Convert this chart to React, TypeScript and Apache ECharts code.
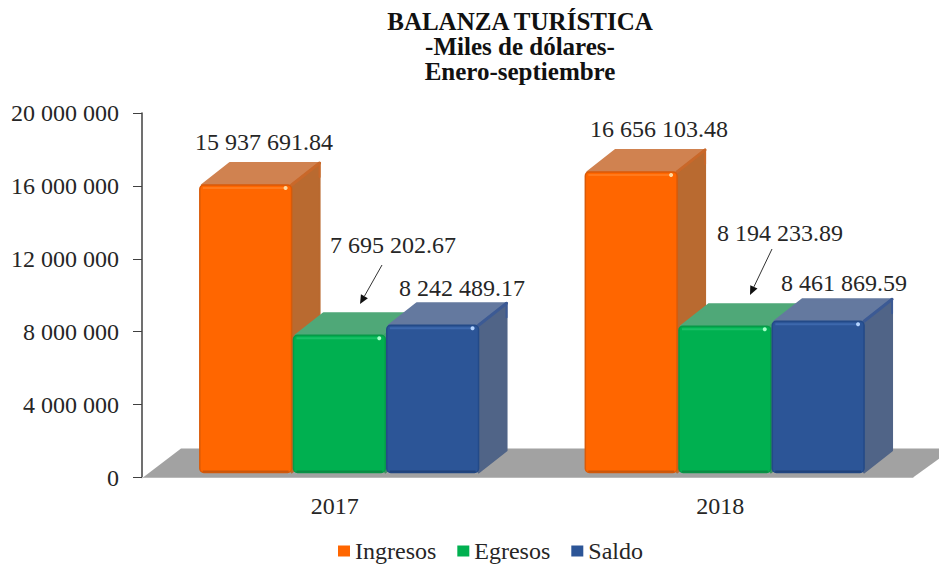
import React, { useEffect, useRef } from "react";
import * as echarts from "echarts";

const categories = ["2017", "2018"];
const ingresos = [15937691.84, 16656103.48];
const egresos = [7695202.67, 8194233.89];
const saldo = [8242489.17, 8461869.59];
const legendNames = ["Ingresos", "Egresos", "Saldo"];
const titleText = "BALANZA TURÍSTICA\n-Miles de dólares-\nEnero-septiembre";
const FONT = '"Liberation Serif", "Times New Roman", serif';

const palette = [
  { front: "#ff6600", edge: "#d95a08", top: "#d08250", side: "#b96a30", rim: "#c9682a", glint: "#ffd9a0", lip: "#ff7a1c", foot: "#c9560c" },
  { front: "#00b050", edge: "#069a48", top: "#4fa878", side: "#3f8f62", rim: "#3fa56c", glint: "#a5ffc8", lip: "#18c066", foot: "#0a8a44" },
  { front: "#2c5597", edge: "#234a88", top: "#64799f", side: "#506487", rim: "#3c5a94", glint: "#b5d4ff", lip: "#3d68ad", foot: "#20427a" },
];
// per-series placement of the bars inside a category band (share of band width)
const barOffset = [-0.35, -0.107, 0.135];
const labelPos = [
  [[264, 142], [659, 129]],
  [[393, 245], [780, 233]],
  [[462, 288], [844, 283]],
];

const fmtSpace = (v: number) => String(v).replace(/\B(?=(\d{3})+(?!\d))/g, " ");
const fmtValue = (v: number) => {
  const [a, b] = v.toFixed(2).split(".");
  return `${fmtSpace(Number(a))}.${b}`;
};

const DX = 28;
const DY = -22;

function barSeries(s: number, values: number[]) {
  const c = palette[s];
  return {
    type: "custom",
    name: legendNames[s],
    itemStyle: { color: c.front },
    data: values.map((v, i) => [i, v]),
    encode: { x: 0, y: 1 },
    z: 3 + s,
    renderItem: (_p: any, api: any) => {
      const cat = api.value(0);
      const val = api.value(1);
      const [cx, yTopRaw] = api.coord([cat, val]);
      const [, y0] = api.coord([cat, 0]);
      const band = api.size([1, 0])[0];
      const w = band * 0.238;
      const x = cx + band * barOffset[s];
      const base = y0 - 5;
      const yTop = yTopRaw - 2;
      const [lx, ly] = labelPos[s][cat];
      return {
        type: "group",
        children: [
          {
            type: "polygon",
            shape: { points: [[x + 2, yTop], [x + DX + 2, yTop + DY], [x + w + DX, yTop + DY], [x + w, yTop]] },
            style: { fill: c.top, stroke: c.top, lineWidth: 2, lineJoin: "round" },
          },
          {
            type: "polygon",
            shape: { points: [[x + w, yTop], [x + w + DX, yTop + DY], [x + w + DX, base + DY], [x + w, base]] },
            style: { fill: c.side, stroke: c.side, lineWidth: 2, lineJoin: "round" },
          },
          {
            type: "line",
            shape: { x1: x + w, y1: yTop, x2: x + w + DX, y2: yTop + DY },
            style: { stroke: c.rim, lineWidth: 3, lineCap: "round" },
          },
          {
            type: "line",
            shape: { x1: x + w + DX, y1: yTop + DY, x2: x + w + DX, y2: yTop + DY + 14 },
            style: { stroke: c.rim, lineWidth: 2, lineCap: "round" },
          },
          {
            type: "rect",
            shape: { x, y: yTop, width: w, height: base - yTop, r: 4 },
            style: { fill: c.front, stroke: c.edge, lineWidth: 1.5 },
          },
          {
            type: "line",
            shape: { x1: x + 3, y1: yTop + 3, x2: x + w - 4, y2: yTop + 3 },
            style: { stroke: c.lip, lineWidth: 2 },
          },
          {
            type: "line",
            shape: { x1: x + 3, y1: base - 1, x2: x + w - 3, y2: base - 1 },
            style: { stroke: c.foot, lineWidth: 2 },
          },
          {
            type: "circle",
            shape: { cx: x + w - 6, cy: yTop + 3, r: 2 },
            style: { fill: c.glint },
          },
          {
            type: "text",
            style: {
              text: fmtValue(val),
              x: lx,
              y: ly,
              fill: "#262626",
              font: `24px ${FONT}`,
              textAlign: "center",
              textVerticalAlign: "middle",
            },
          },
        ],
      };
    },
  };
}

const floorSeries = {
  type: "custom",
  name: "floor",
  silent: true,
  data: [[0, 0]],
  encode: { x: 0, y: 1 },
  z: 1,
  renderItem: (p: any, api: any) => {
    const cs = p.coordSys;
    const [, y0] = api.coord([0, 0]);
    const l = cs.x + 1;
    const r = cs.x + cs.width;
    return {
      type: "polygon",
      shape: { points: [[l, y0], [l + 38, y0 - 29], [r + 40, y0 - 29], [r, y0]] },
      style: { fill: "#a2a2a2" },
    };
  },
};

function arrow(x1: number, y1: number, x2: number, y2: number) {
  const a = Math.atan2(y2 - y1, x2 - x1);
  const L = 9;
  const H = 4;
  const bx = x2 - L * Math.cos(a);
  const by = y2 - L * Math.sin(a);
  return [
    { type: "line", shape: { x1, y1, x2: bx, y2: by }, style: { stroke: "#333", lineWidth: 1 } },
    {
      type: "polygon",
      shape: {
        points: [
          [x2, y2],
          [bx - H * Math.sin(a), by + H * Math.cos(a)],
          [bx + H * Math.sin(a), by - H * Math.cos(a)],
        ],
      },
      style: { fill: "#111" },
    },
  ];
}

export default function App() {
  const ref = useRef<HTMLDivElement>(null);
  useEffect(() => {
    if (!ref.current) return;
    const chart = echarts.init(ref.current, undefined, { renderer: "svg" });
    chart.setOption({
      animation: false,
      backgroundColor: "#ffffff",
      title: {
        text: titleText,
        left: 515,
        top: 4,
        textAlign: "center",
        textStyle: { fontFamily: FONT, fontWeight: "bold", fontSize: 25, lineHeight: 25, color: "#111" },
      },
      grid: { left: 142, right: 26, top: 113, height: 364.5, containLabel: false },
      legend: {
        data: legendNames,
        left: 333,
        top: 534,
        itemWidth: 12,
        itemHeight: 11,
        itemGap: 21,
        icon: "rect",
        textStyle: { fontFamily: FONT, fontSize: 24, color: "#262626" },
      },
      xAxis: {
        type: "category",
        data: categories,
        axisLine: { show: true, lineStyle: { color: "#d0d0d0", width: 1 } },
        axisTick: { show: false },
        axisLabel: { fontFamily: FONT, fontSize: 24, color: "#262626", margin: 16 },
      },
      yAxis: {
        type: "value",
        min: 0,
        max: 20000000,
        interval: 4000000,
        splitLine: { show: false },
        axisLine: { show: true, lineStyle: { color: "#404040", width: 1.5 } },
        axisTick: { show: true, length: 9, lineStyle: { color: "#404040", width: 1 } },
        axisLabel: {
          fontFamily: FONT,
          fontSize: 24,
          color: "#262626",
          margin: 23,
          formatter: (v: number) => fmtSpace(v),
        },
      },
      graphic: [...arrow(382, 265, 360, 304), ...arrow(772, 249, 750, 295)],
      series: [floorSeries, barSeries(0, ingresos), barSeries(1, egresos), barSeries(2, saldo)],
    });
    return () => chart.dispose();
  }, []);
  return <div ref={ref} style={{ position: "fixed", left: 0, top: 0, width: 939, height: 565 }} />;
}
